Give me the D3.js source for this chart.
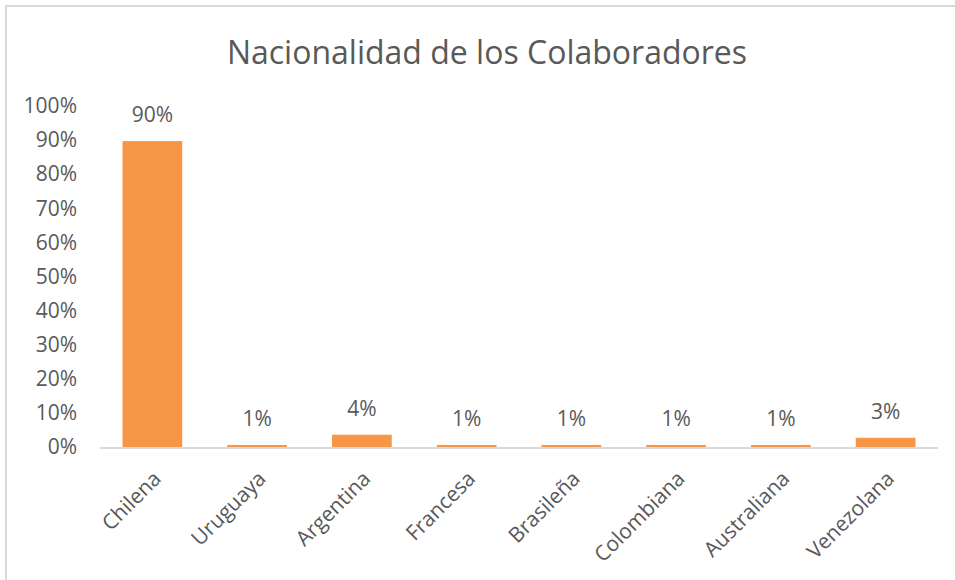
<!DOCTYPE html>
<html>
<head>
<meta charset="utf-8">
<script src="https://cdn.jsdelivr.net/npm/d3@7"></script>
<style>
  body { margin: 0; background: #fff; }
  svg text { font-family: "Open Sans", "Noto Sans", sans-serif; fill: #595959; }
</style>
</head>
<body>
<svg id="chart" width="955" height="580"></svg>
<script>
// data
const categories = ["Chilena", "Uruguaya", "Argentina", "Francesa", "Brasileña", "Colombiana", "Australiana", "Venezolana"];
const shares = [0.897, 0.006, 0.036, 0.006, 0.006, 0.006, 0.006, 0.027];
const yTicks = [0, 0.1, 0.2, 0.3, 0.4, 0.5, 0.6, 0.7, 0.8, 0.9, 1.0];

const svg = d3.select("#chart");
const margin = {top: 106, left: 100, right: 17, bottom: 132};
const W = 955, H = 580;
const pct = d3.format(".0%");

// outer frame (only top and left edges show)
svg.append("rect")
  .attr("x", 6).attr("y", 6)
  .attr("width", W + 10).attr("height", H + 10)
  .attr("fill", "none")
  .attr("stroke", "#d9d9d9")
  .attr("stroke-width", 2);

svg.append("text")
  .attr("x", 487).attr("y", 64)
  .attr("text-anchor", "middle")
  .style("font-size", "32px")
  .text("Nacionalidad de los Colaboradores");

const x = d3.scaleBand()
  .domain(categories)
  .range([margin.left, W - margin.right])
  .paddingInner(0.43).paddingOuter(0.215);

const y = d3.scaleLinear()
  .domain([0, 1])
  .range([H - margin.bottom - 1, margin.top]);

// y tick labels
const yAxis = svg.append("g")
  .attr("transform", `translate(${margin.left},0)`)
  .call(d3.axisLeft(y).tickValues(yTicks).tickFormat(pct).tickSize(0).tickPadding(23));
yAxis.select(".domain").remove();
yAxis.selectAll("text")
  .style("font-size", "21px")
  .attr("fill", "#595959");

// bars
svg.append("g").selectAll("rect")
  .data(categories)
  .join("rect")
  .attr("x", d => x(d))
  .attr("width", x.bandwidth())
  .attr("y", (d, i) => y(shares[i]))
  .attr("height", (d, i) => y(0) - y(shares[i]))
  .attr("fill", "#f79646");

// value labels
svg.append("g").selectAll("text")
  .data(categories)
  .join("text")
  .attr("x", d => x(d) + x.bandwidth() / 2)
  .attr("y", (d, i) => y(shares[i]) - 19)
  .attr("text-anchor", "middle")
  .style("font-size", "21px")
  .text((d, i) => pct(shares[i]));

// x axis line + rotated labels
const xAxis = svg.append("g")
  .attr("transform", `translate(0,${y(0)})`)
  .call(d3.axisBottom(x).tickSize(0).tickSizeOuter(0));
xAxis.select(".domain")
  .attr("stroke", "#d9d9d9")
  .attr("stroke-width", 2)
  .attr("d", `M${margin.left},1H${W - margin.right}`);
xAxis.selectAll("text")
  .style("font-size", "21px")
  .attr("fill", "#595959")
  .attr("text-anchor", "end")
  .attr("dy", null).attr("y", null)
  .attr("transform", "translate(10,33) rotate(-45)");
</script>
</body>
</html>
